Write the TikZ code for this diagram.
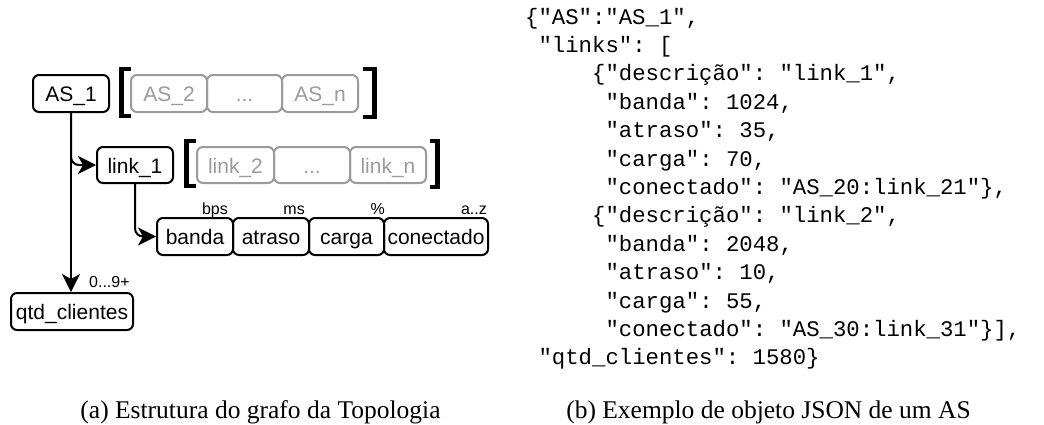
\documentclass[tikz,border=0pt]{standalone}
\usepackage{fontspec}
\setmainfont{Liberation Serif}
\setsansfont{Liberation Sans}
\setmonofont{Liberation Mono}
\usetikzlibrary{arrows.meta}
\definecolor{boxgray}{RGB}{155,155,155}
\tikzset{
  box/.style={draw, line width=2pt, rounded corners=6pt, inner sep=0pt,
    minimum height=37pt, text height=16pt, text depth=0pt,
    font=\sffamily\fontsize{21}{25}\selectfont},
  graybox/.style={box, draw=boxgray, text=boxgray},
  unit/.style={font=\sffamily\fontsize{16}{19}\selectfont, inner sep=0pt, anchor=base east},
  bracketline/.style={line width=4.8pt, line join=miter},
  conn/.style={line width=2pt, rounded corners=8pt,
    -{Stealth[length=18pt,width=18pt,inset=5pt]}},
  json/.style={font=\ttfamily\fontsize{22.3}{26}\selectfont, inner sep=0pt, anchor=base west},
  captext/.style={font=\rmfamily\fontsize{25.5}{30}\selectfont, inner sep=0pt, anchor=base},
}
\begin{document}
\begin{tikzpicture}[x=1pt,y=-1pt]
\useasboundingbox (0,0) rectangle (1044,424);

% ---- AS row
\node[box, minimum width=76pt] (as1) at (71,93.5) {AS\_1};
\node[graybox, minimum width=76pt] (as2) at (169,93.5) {AS\_2};
\node[graybox, minimum width=75pt] (asdots) at (244.5,93.5) {...};
\node[graybox, minimum width=76pt] (asn) at (320,93.5) {AS\_n};
\draw[bracketline] (131,69) -- (121.5,69) -- (121.5,116) -- (131,116);
\draw[bracketline] (363,69) -- (374.5,69) -- (374.5,117) -- (363,117);

% ---- link row
\node[box, minimum width=76pt, minimum height=36pt] (link1) at (135,165) {link\_1};
\node[graybox, minimum width=77pt, minimum height=36pt] (link2) at (235.5,165) {link\_2};
\node[graybox, minimum width=76pt, minimum height=36pt] (linkdots) at (312,165) {...};
\node[graybox, minimum width=76pt, minimum height=36pt] (linkn) at (388,165) {link\_n};
\draw[bracketline] (196,141) -- (186.5,141) -- (186.5,186) -- (196,186);
\draw[bracketline] (430,141) -- (437.5,141) -- (437.5,187) -- (430,187);

% ---- attribute row
\node[box, minimum width=76pt] (banda) at (195,236.5) {banda};
\node[box, minimum width=76pt] (atraso) at (271,236.5) {atraso};
\node[box, minimum width=75pt] (carga) at (346.5,236.5) {carga};
\node[box, minimum width=104pt] (conectado) at (436,236.5) {conectado};
\node[unit] (ubps) at (228,214) {bps};
\node[unit] (ums) at (305,214) {ms};
\node[unit] (upct) at (385,214) {\%};
\node[unit] (uaz) at (487,214) {a..z};

% ---- clients
\node[box, minimum width=122pt] (qtd) at (72,311.5) {qtd\_clientes};
\node[unit, anchor=base west] (ucount) at (89,287) {0...9+};

% ---- connectors
\draw[conn] (as1.south) -- (as1.south |- qtd.north);
\draw[conn] (as1.south) |- (link1.west);
\draw[conn] (link1.south) |- (banda.west);

% ---- JSON
\node[json] (j1)  at (525,24)     {\{"AS":"AS\_1",};
\node[json] (j2)  at (538.4,52.4) {"links": [};
\node[json] (j3)  at (592,80.8)   {\{"descrição": "link\_1",};
\node[json] (j4)  at (605.4,109.2) {"banda": 1024,};
\node[json] (j5)  at (605.4,137.6) {"atraso": 35,};
\node[json] (j6)  at (605.4,166)   {"carga": 70,};
\node[json] (j7)  at (605.4,194.4) {"conectado": "AS\_20:link\_21"\},};
\node[json] (j8)  at (592,222.8)   {\{"descrição": "link\_2",};
\node[json] (j9)  at (605.4,251.2) {"banda": 2048,};
\node[json] (j10) at (605.4,279.6) {"atraso": 10,};
\node[json] (j11) at (605.4,308)   {"carga": 55,};
\node[json] (j12) at (605.4,336.4) {"conectado": "AS\_30:link\_31"\}],};
\node[json] (j13) at (538.4,364.8) {"qtd\_clientes": 1580\}};

% ---- captions
\node[captext] (capa) at (260.5,418) {(a) Estrutura do grafo da Topologia};
\node[captext] (capb) at (768.5,418) {(b) Exemplo de objeto JSON de um AS};
\end{tikzpicture}
\end{document}
